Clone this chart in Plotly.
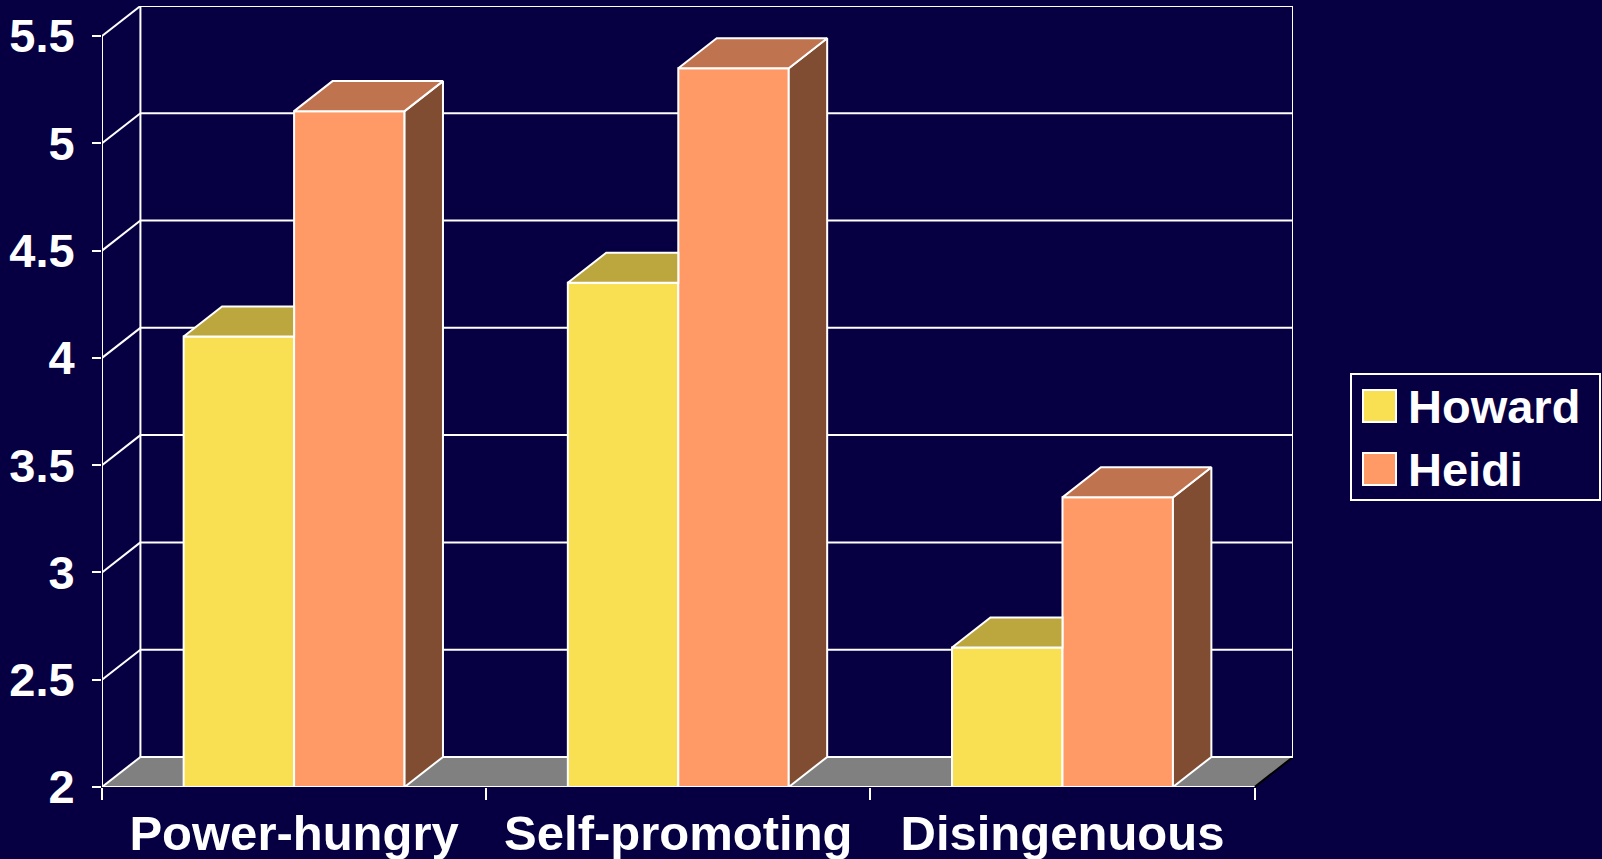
import plotly.graph_objects as go

# ---- data -------------------------------------------------------------
categories = ["Power-hungry", "Self-promoting", "Disingenuous"]
series_names = ["Howard", "Heidi"]
howard = [4.1, 4.35, 2.65]
heidi = [5.15, 5.35, 3.35]
y_ticks = [2, 2.5, 3, 3.5, 4, 4.5, 5, 5.5]
y_ticktext = ["2", "2.5", "3", "3.5", "4", "4.5", "5", "5.5"]

# ---- style ------------------------------------------------------------
BG = "#060042"
FRONT = {"Howard": "#F9DF52", "Heidi": "#FF9966"}
TOP = {"Howard": "#BCA63E", "Heidi": "#BF734E"}
SIDE = {"Howard": "#7E6F2A", "Heidi": "#804D33"}
FLOOR = "#808080"
EDGE = "white"
FONT = "Liberation Sans, Arial, sans-serif"

W, H = 1602, 859
M_L, M_R, M_T, M_B = 102, 309, 6, 72

BAR_W = 0.2875          # width of each bar in category units
DX, DY = 0.1, 0.14      # depth of the 3-D box (x units, y units)
Y0 = y_ticks[0]
YTOP = y_ticks[-1]
XLO, XHI = -0.5, len(categories) - 0.5
pos = list(range(len(categories)))

fig = go.Figure()

# front faces of the columns
for name, vals, off in (("Howard", howard, -BAR_W), ("Heidi", heidi, 0.0)):
    fig.add_trace(go.Bar(
        x=pos, y=vals, width=BAR_W, offset=off, name=name,
        marker=dict(color=FRONT[name], line=dict(color=EDGE, width=2)),
        showlegend=False, hoverinfo="skip",
    ))


def face(xs, ys, color):
    fig.add_trace(go.Scatter(
        x=xs + [xs[0]], y=ys + [ys[0]], mode="lines", fill="toself",
        fillcolor=color, line=dict(color=EDGE, width=2),
        showlegend=False, hoverinfo="skip",
    ))


# top and side faces, from the same values
for c, hw, hd in zip(pos, howard, heidi):
    x0, x1, x2 = c - BAR_W, c, c + BAR_W
    # Howard's top, cut where Heidi's taller front face covers it
    # (Heidi's front face also hides Howard's side face completely)
    face([x0, x1, x1, x0 + DX], [hw, hw, hw + DY, hw + DY], TOP["Howard"])
    face([x2, x2, x2 + DX, x2 + DX], [Y0, hd, hd + DY, Y0 + DY], SIDE["Heidi"])
    face([x1, x2, x2 + DX, x1 + DX], [hd, hd, hd + DY, hd + DY], TOP["Heidi"])

# front axis lines, drawn on top
fig.add_trace(go.Scatter(
    x=[XLO, XLO, None, XLO, XHI], y=[YTOP, Y0, None, Y0, Y0],
    mode="lines", line=dict(color=EDGE, width=2), cliponaxis=False,
    showlegend=False, hoverinfo="skip",
))

# ---- walls, floor and gridlines (behind the columns) ------------------
shapes = []
floor_path = (f"M {XLO},{Y0} L {XHI},{Y0} L {XHI + DX},{Y0 + DY} "
              f"L {XLO + DX},{Y0 + DY} Z")
shapes.append(dict(type="path", path=floor_path, xref="x", yref="y",
                   fillcolor=FLOOR, line=dict(width=0), layer="below"))
shapes.append(dict(type="line", xref="x", yref="y", x0=XHI, y0=Y0,
                   x1=XHI + DX, y1=Y0 + DY,
                   line=dict(color="black", width=2), layer="below"))
for v in y_ticks:
    # back-wall gridline
    shapes.append(dict(type="line", xref="x", yref="y", x0=XLO + DX, y0=v + DY,
                       x1=XHI + DX, y1=v + DY,
                       line=dict(color=EDGE, width=2), layer="below"))
    # side-wall slant
    shapes.append(dict(type="line", xref="x", yref="y", x0=XLO, y0=v,
                       x1=XLO + DX, y1=v + DY,
                       line=dict(color=EDGE, width=2), layer="below"))
for xv in (XLO + DX, XHI + DX):
    shapes.append(dict(type="line", xref="x", yref="y", x0=xv, y0=Y0 + DY,
                       x1=xv, y1=YTOP + DY,
                       line=dict(color=EDGE, width=2), layer="below"))

# ---- legend -----------------------------------------------------------
plot_w = W - M_L - M_R
plot_h = H - M_T - M_B


def px(xp):
    return (xp - M_L) / plot_w


def py(yp):
    return (H - M_B - yp) / plot_h


shapes.append(dict(type="rect", xref="paper", yref="paper",
                   x0=px(1351), x1=px(1600), y0=py(500), y1=py(374),
                   line=dict(color=EDGE, width=2), fillcolor=BG, layer="above"))
annotations = []
for i, name in enumerate(series_names):
    top = 390 + i * 63
    shapes.append(dict(type="rect", xref="paper", yref="paper",
                       x0=px(1363), x1=px(1396), y0=py(top + 32), y1=py(top),
                       line=dict(color=EDGE, width=2), fillcolor=FRONT[name],
                       layer="above"))
    annotations.append(dict(text=name, xref="paper", yref="paper",
                            x=px(1406), y=py(top + 16), xanchor="left",
                            yanchor="middle", showarrow=False,
                            font=dict(family=FONT, size=47, color="white",
                                      weight="bold")))

fig.update_layout(
    width=W, height=H,
    margin=dict(l=M_L, r=M_R, t=M_T, b=M_B, pad=0),
    paper_bgcolor=BG, plot_bgcolor=BG,
    barmode="overlay",
    shapes=shapes, annotations=annotations,
    showlegend=False,
    xaxis=dict(
        range=[XLO, XHI + DX], showgrid=False, zeroline=False, showline=False,
        tickmode="array", tickvals=pos, ticktext=categories, ticks="",
        ticklabelstandoff=13, automargin=False,
        tickfont=dict(family=FONT, size=49, color="white", weight="bold"),
        minor=dict(tickmode="array",
                   tickvals=[p - 0.5 for p in pos] + [XHI],
                   ticks="outside", ticklen=12, tickwidth=2, tickcolor=EDGE),
        fixedrange=True,
    ),
    yaxis=dict(
        range=[Y0, YTOP + DY], showgrid=False, zeroline=False, showline=False,
        tickmode="array", tickvals=y_ticks, ticktext=y_ticktext,
        ticks="outside", ticklen=9, tickwidth=2, tickcolor=EDGE,
        ticklabelstandoff=8, automargin=False,
        tickfont=dict(family=FONT, size=47, color="white", weight="bold"),
        fixedrange=True,
    ),
)

fig.write_html("out.html", config={"displayModeBar": False})
